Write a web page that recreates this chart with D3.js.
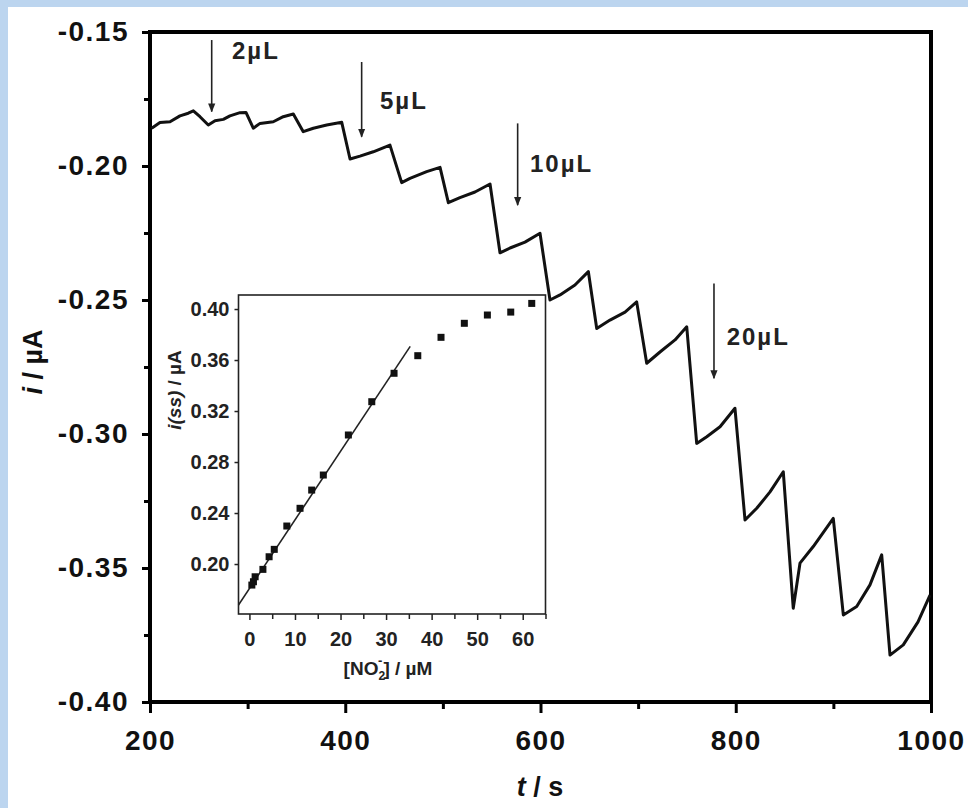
<!DOCTYPE html>
<html><head><meta charset="utf-8">
<script src="https://cdn.jsdelivr.net/npm/d3@7/dist/d3.min.js"></script>
<style>
html,body{margin:0;padding:0;background:#fff;}
svg{display:block;}
text{font-family:"Liberation Sans",Arial,sans-serif;}
</style></head><body>
<svg id="c" width="968" height="808"></svg>
<script>
// ---- main chronoamperogram ----
const timeS = [201.7,210.2,220.5,230.7,239.2,244.4,251.2,259.7,266.6,275.1,281.9,292.2,298.3,305.8,312.7,326.3,336.5,346.8,357.0,367.3,381.0,396.4,404.9,415.1,428.7,445.8,457.8,466.3,483.4,497.1,505.6,517.5,532.9,548.3,558.5,568.8,584.1,599.5,609.7,620.0,635.3,649.0,657.6,671.2,686.6,698.5,708.8,722.4,737.8,749.8,760.0,770.3,783.9,799.2,809.5,821.5,835.1,848.7,858.9,865.8,879.4,899.9,910.2,923.9,937.5,949.5,958.0,971.6,986.7,999.0];
const currentUA = [-0.1859,-0.1838,-0.1835,-0.1813,-0.1803,-0.1794,-0.1816,-0.1847,-0.1831,-0.1826,-0.1813,-0.1801,-0.1800,-0.1859,-0.1841,-0.1835,-0.1816,-0.1806,-0.1872,-0.1859,-0.1847,-0.1837,-0.1974,-0.1963,-0.1947,-0.1922,-0.2062,-0.2046,-0.2021,-0.2005,-0.2137,-0.2118,-0.2097,-0.2067,-0.2324,-0.2306,-0.2284,-0.2251,-0.2500,-0.2481,-0.2444,-0.2394,-0.2606,-0.2575,-0.2545,-0.2507,-0.2736,-0.2694,-0.2649,-0.2600,-0.3035,-0.3010,-0.2973,-0.2904,-0.3321,-0.3277,-0.3216,-0.3141,-0.3650,-0.3482,-0.3420,-0.3315,-0.3675,-0.3644,-0.3563,-0.3451,-0.3825,-0.3787,-0.3701,-0.3601];
const xTicks = [200,400,600,800,1000];
const xMinorTicks = [300,500,700,900];
const yTicks = [-0.40,-0.35,-0.30,-0.25,-0.20,-0.15];
const yMinorTicks = [-0.375,-0.325,-0.275,-0.225,-0.175];
// injection annotations (data coordinates)
const injLabels = ["2µL","5µL","10µL","20µL"];
const injT = [263.2,416.8,576.6,777.7];
const injTop = [-0.1530,-0.1612,-0.1841,-0.2438];
const injTip = [-0.1797,-0.1891,-0.2146,-0.2792];
const injTextT = [284,435.6,589.2,790.7];
const injTextI = [-0.1570,-0.1754,-0.1990,-0.2637];

// ---- inset calibration ----
const concUM = [0.53,0.88,1.25,2.96,4.32,5.45,8.21,11.11,13.67,16.22,21.72,26.86,31.75,36.96,42.06,47.18,52.24,57.37,61.98];
const issUA = [0.1835,0.1861,0.1900,0.1958,0.2057,0.2115,0.2298,0.2437,0.2580,0.2698,0.3012,0.3273,0.3496,0.3634,0.3778,0.3888,0.3953,0.3976,0.4044];
const fitSlope = 0.00538, fitIntercept = 0.1808;
const fitRange = [-2.4,35.3];
const insetXTicks = [0,10,20,30,40,50,60];
const insetXMinor = [5,15,25,35,45,55,65];
const insetYTicks = [0.20,0.24,0.28,0.32,0.36,0.40];

const svg = d3.select("#c");
svg.append("rect").attr("width",968).attr("height",808).attr("fill","#fff");
svg.append("rect").attr("x",0).attr("y",0).attr("width",968).attr("height",7).attr("fill","#bcd5ef");
svg.append("rect").attr("x",0).attr("y",0).attr("width",8).attr("height",808).attr("fill","#bcd5ef");

const L=150,R=931,T=32,B=702;
const x = d3.scaleLinear().domain([200,1000]).range([L,R]);
const y = d3.scaleLinear().domain([-0.40,-0.15]).range([B,T]);
const fmt2 = d => d.toFixed(2);

const tickFont = g => g.selectAll("text").attr("font-size",28).attr("font-weight","bold").attr("fill","#111").style("letter-spacing","1.5px");

const gx = svg.append("g").attr("transform",`translate(0,${B})`)
  .call(d3.axisBottom(x).tickValues(xTicks).tickSize(11).tickPadding(17).tickFormat(d3.format("d")));
gx.call(tickFont);
const gxm = svg.append("g").attr("transform",`translate(0,${B})`)
  .call(d3.axisBottom(x).tickValues(xMinorTicks).tickSize(7).tickFormat(""));
const gy = svg.append("g").attr("transform",`translate(${L},0)`)
  .call(d3.axisLeft(y).tickValues(yTicks).tickSize(8).tickPadding(13).tickFormat(fmt2));
gy.call(tickFont);
const gym = svg.append("g").attr("transform",`translate(${L},0)`)
  .call(d3.axisLeft(y).tickValues(yMinorTicks).tickSize(6).tickFormat(""));
[gx,gxm,gy,gym].forEach(g=>{g.select(".domain").remove(); g.selectAll("line").attr("stroke","#000").attr("stroke-width",3);});

svg.append("rect").attr("x",L).attr("y",T).attr("width",R-L).attr("height",B-T)
  .attr("fill","none").attr("stroke","#000").attr("stroke-width",4);

// axis titles
const xt = svg.append("text").attr("x",540).attr("y",796).attr("text-anchor","middle")
  .attr("font-size",27).attr("font-weight","bold").attr("fill","#111");
xt.append("tspan").attr("font-style","italic").text("t");
xt.append("tspan").text(" / s");
const yt = svg.append("text").attr("transform","translate(42,362) rotate(-90)").attr("text-anchor","middle")
  .attr("font-size",27).attr("font-weight","bold").attr("fill","#111");
yt.append("tspan").attr("font-style","italic").text("i");
yt.append("tspan").text(" / µA");

// curve
const pts = timeS.map((t,k)=>[t,currentUA[k]]);
svg.append("path").datum(pts)
  .attr("d", d3.line().x(d=>x(d[0])).y(d=>y(d[1])))
  .attr("fill","none").attr("stroke","#111").attr("stroke-width",3).attr("stroke-linejoin","round");

// injection arrows
const defs = svg.append("defs");
defs.append("marker").attr("id","ah").attr("viewBox","0 0 10 10").attr("refX",9).attr("refY",5)
  .attr("markerWidth",9).attr("markerHeight",9).attr("markerUnits","userSpaceOnUse").attr("orient","auto")
  .append("path").attr("d","M0,1 L10,5 L0,9 Z").attr("fill","#222");
injLabels.forEach((lab,k)=>{
  svg.append("line").attr("x1",x(injT[k])).attr("x2",x(injT[k]))
    .attr("y1",y(injTop[k])).attr("y2",y(injTip[k]))
    .attr("stroke","#222").attr("stroke-width",1.6).attr("marker-end","url(#ah)");
  svg.append("text").attr("x",x(injTextT[k])).attr("y",y(injTextI[k])).attr("dy","0.36em")
    .attr("font-size",24).attr("font-weight","bold").attr("fill","#222").style("letter-spacing","2px").text(lab);
});

// ---- inset ----
const iL=238.5,iR=545.5,iT=295,iB=614;
const ix = d3.scaleLinear().domain([-2.4,65]).range([iL,iR]);
const iy = d3.scaleLinear().domain([0.1608,0.411]).range([iB,iT]);
svg.append("rect").attr("x",iL).attr("y",iT).attr("width",iR-iL).attr("height",iB-iT)
  .attr("fill","#fff").attr("stroke","#222").attr("stroke-width",1.6);
const insetFont = g => g.selectAll("text").attr("font-size",20).attr("font-weight","bold").attr("fill","#222");
const igx = svg.append("g").attr("transform",`translate(0,${iB})`)
  .call(d3.axisBottom(ix).tickValues(insetXTicks).tickSize(6).tickPadding(12).tickFormat(d3.format("d")));
igx.call(insetFont);
const igxm = svg.append("g").attr("transform",`translate(0,${iB})`)
  .call(d3.axisBottom(ix).tickValues(insetXMinor).tickSize(5).tickFormat(""));
const igy = svg.append("g").attr("transform",`translate(${iL},0)`)
  .call(d3.axisLeft(iy).tickValues(insetYTicks).tickSize(4).tickPadding(5).tickFormat(fmt2));
igy.call(insetFont);
[igx,igxm,igy].forEach(g=>{g.select(".domain").remove(); g.selectAll("line").attr("stroke","#222").attr("stroke-width",1.5);});

svg.append("line")
  .attr("x1",ix(fitRange[0])).attr("y1",iy(fitIntercept+fitSlope*fitRange[0]))
  .attr("x2",ix(fitRange[1])).attr("y2",iy(fitIntercept+fitSlope*fitRange[1]))
  .attr("stroke","#222").attr("stroke-width",1.6);
svg.append("g").selectAll("rect").data(concUM).join("rect")
  .attr("x",(d,k)=>ix(d)-3.5).attr("y",(d,k)=>iy(issUA[k])-3.5)
  .attr("width",7).attr("height",7).attr("fill","#111");

// inset titles
const ixt = svg.append("text").attr("x",388).attr("y",675).attr("text-anchor","middle")
  .attr("font-size",19).attr("font-weight","bold").attr("fill","#222");
ixt.append("tspan").text("[NO");
ixt.append("tspan").attr("font-size",12).attr("dy",5).text("2");
ixt.append("tspan").attr("font-size",13).attr("dx",-7).attr("dy",-15).text("-");
ixt.append("tspan").attr("dy",10).attr("dx",1).text("] / µM");
const iyt = svg.append("text").attr("transform","translate(181,390) rotate(-90)").attr("text-anchor","middle")
  .attr("font-size",19).attr("font-weight","bold").attr("fill","#222");
iyt.append("tspan").attr("font-style","italic").text("i(ss)");
iyt.append("tspan").text("  / µA");
</script>
</body></html>
